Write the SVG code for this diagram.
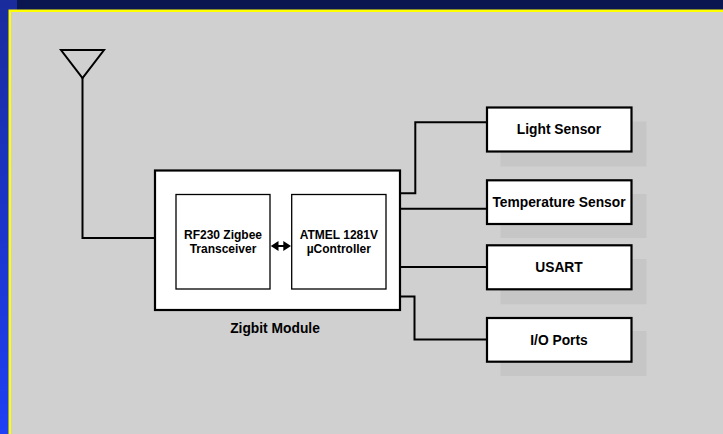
<svg xmlns="http://www.w3.org/2000/svg" width="723" height="434" viewBox="0 0 723 434">
<defs>
<linearGradient id="lg" x1="0" y1="0" x2="0" y2="1">
<stop offset="0" stop-color="#1a2c9c"/>
<stop offset="0.5" stop-color="#1b34c8"/>
<stop offset="1" stop-color="#1f40f4"/>
</linearGradient>
<style>
.box{fill:#fff;stroke:#000;stroke-width:2.2}
.inner{fill:#fff;stroke:#000;stroke-width:1.3}
.shadow{fill:#c6c6c6}
.wire{fill:none;stroke:#000;stroke-width:2}
.t{font-family:"Liberation Sans",Arial,sans-serif;font-weight:bold;fill:#000;text-anchor:middle}
.big{font-size:13.8px}
.small{font-size:12px}
</style>
</defs>
<rect x="0" y="0" width="723" height="434" fill="#0a1650"/>
<rect x="0" y="0" width="17" height="434" fill="url(#lg)"/>
<rect x="9.75" y="10.75" width="720" height="430" fill="#d0d0d0" stroke="#ffff00" stroke-width="2.5"/>

<g id="antenna">
<path class="wire" d="M61,50 L104,50 L82.5,78 Z" stroke-linejoin="miter"/>
</g>

<g id="zigbit-module">
<rect class="box" x="155" y="170.5" width="245" height="139.5"/>
<text class="t big" x="275" y="333">Zigbit Module</text>
</g>

<g id="rf230">
<rect class="inner" x="176" y="194.5" width="94" height="94.5"/>
<text class="t small" x="223" y="239">RF230 Zigbee</text>
<text class="t small" x="223" y="253">Transceiver</text>
</g>

<g id="atmel">
<rect class="inner" x="291.7" y="194.5" width="94.3" height="94.5"/>
<text class="t small" x="338.8" y="239">ATMEL 1281V</text>
<text class="t small" x="338.8" y="253">µController</text>
</g>

<g id="light-sensor">
<rect class="shadow" x="500.5" y="121.5" width="146" height="45"/>
<rect class="box" x="487" y="107.5" width="144.5" height="44"/>
<text class="t big" x="559" y="134.3">Light Sensor</text>
</g>

<g id="temperature-sensor">
<rect class="shadow" x="500.5" y="194" width="146" height="44"/>
<rect class="box" x="487" y="180.3" width="144.5" height="43.7"/>
<text class="t big" x="559" y="207">Temperature Sensor</text>
</g>

<g id="usart">
<rect class="shadow" x="500.5" y="259" width="146" height="45.3"/>
<rect class="box" x="487" y="245.3" width="144.5" height="44"/>
<text class="t big" x="559" y="272">USART</text>
</g>

<g id="io-ports">
<rect class="shadow" x="500.5" y="331" width="146" height="45"/>
<rect class="box" x="487" y="318" width="144.5" height="43.7"/>
<text class="t big" x="559" y="344.5">I/O Ports</text>
</g>

<g id="connectors">
<path class="wire" d="M82.5,78 L82.5,238 L154,238"/>
<path class="wire" d="M401,193.3 L415.3,193.3 L415.3,122.3 L486,122.3"/>
<path class="wire" d="M401,208.8 L486,208.8"/>
<path class="wire" d="M401,267 L486,267"/>
<path class="wire" d="M401,296.5 L414.5,296.5 L414.5,339.5 L486,339.5"/>
<line x1="277" y1="246" x2="285" y2="246" stroke="#000" stroke-width="2"/>
<polygon points="270.8,246 278.5,241 278.5,251" fill="#000"/>
<polygon points="291,246 283.3,241 283.3,251" fill="#000"/>
</g>
</svg>
